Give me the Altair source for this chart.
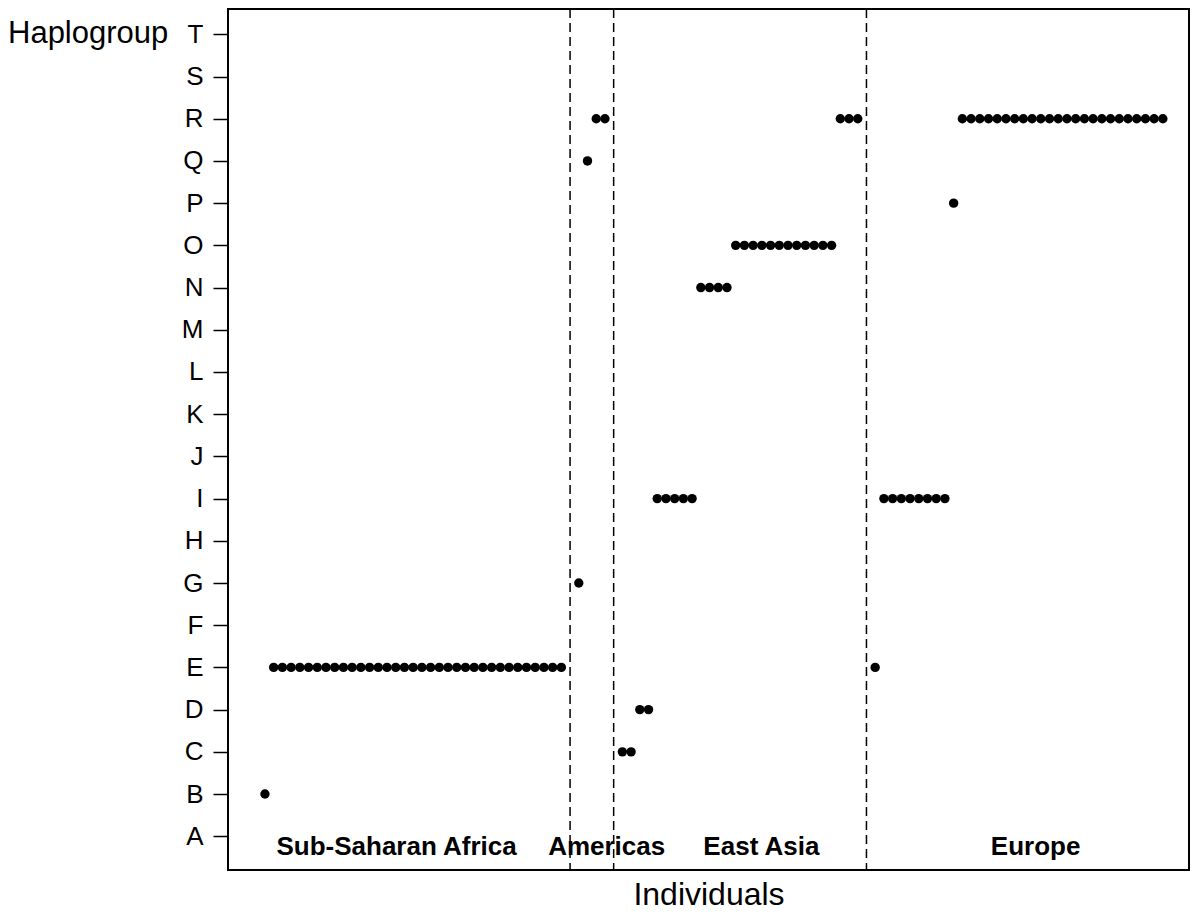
import altair as alt
import pandas as pd

# Haplogroup letters (y axis, bottom to top)
haplogroups = ["A", "B", "C", "D", "E", "F", "G", "H", "I", "J",
               "K", "L", "M", "N", "O", "P", "Q", "R", "S", "T"]

# Runs of consecutive individuals sharing the same haplogroup
run_haplogroup = ["B", "E", "G", "Q", "R", "C", "D", "I", "N", "O", "R", "E", "I", "P", "R"]
run_start = [1, 2, 37, 38, 39, 42, 44, 46, 51, 55, 67, 71, 72, 80, 81]
run_count = [1, 34, 1, 1, 2, 2, 2, 5, 4, 12, 3, 1, 8, 1, 24]

# Region dividers (individual index) and region labels
divider_positions = [36, 41, 70]
region_names = ["Sub-Saharan Africa", "Americas", "East Asia", "Europe"]
region_centers = [16.1, 40.2, 57.95, 89.4]

rows = []
for h, s, c in zip(run_haplogroup, run_start, run_count):
    for k in range(c):
        rows.append({"individual": s + k, "haplogroup": h,
                     "level": haplogroups.index(h) + 1})
points_df = pd.DataFrame(rows)
div_df = pd.DataFrame({"pos": divider_positions})
reg_df = pd.DataFrame({"region": region_names, "center": region_centers})

FONT = "Liberation Sans, Arial, Helvetica, sans-serif"
label_expr = "[" + ",".join(f"'{h}'" for h in haplogroups) + "][datum.value - 1]"

xscale = alt.Scale(domain=[-3.24, 107.0], nice=False, zero=False)
yscale = alt.Scale(domain=[0.2, 20.6], nice=False, zero=False)

xaxis = alt.Axis(labels=False, ticks=False, domain=False, grid=False,
                 title="Individuals", titleFontSize=32, titleFontWeight="normal",
                 titleFont=FONT, titleColor="black", titlePadding=9)
yaxis = alt.Axis(values=list(range(1, len(haplogroups) + 1)), labelExpr=label_expr,
                 domain=False, grid=False, ticks=True, tickSize=15, tickWidth=1.5,
                 tickColor="black", labelFontSize=26, labelFont=FONT,
                 labelColor="black", labelPadding=10, title=None)

points = alt.Chart(points_df).mark_circle(size=88, color="black", opacity=1).encode(
    x=alt.X("individual:Q", scale=xscale, axis=xaxis),
    y=alt.Y("level:Q", scale=yscale, axis=yaxis),
)

dividers = alt.Chart(div_df).mark_rule(color="black", strokeWidth=1.5,
                                        strokeDash=[9, 5]).encode(
    x=alt.X("pos:Q", scale=xscale, axis=xaxis),
)

regions = alt.Chart(reg_df).mark_text(font=FONT, fontSize=26, fontWeight="bold",
                                       color="black", align="center",
                                       baseline="middle", dy=11).encode(
    x=alt.X("center:Q", scale=xscale, axis=xaxis),
    y=alt.datum(1),
    text="region:N",
)

ytitle = alt.Chart(pd.DataFrame({"t": ["Haplogroup"]})).mark_text(
    font=FONT, fontSize=31, color="black", align="left", baseline="middle", dy=0
).encode(
    x=alt.value(-220),
    y=alt.datum(20),
    text="t:N",
)

chart = alt.layer(dividers, points, regions, ytitle).properties(
    width=961, height=861,
    padding={"left": 220, "top": 1, "right": 3, "bottom": 41},
    autosize=alt.AutoSizeParams(type="none"),
    background="white",
).configure_view(stroke="black", strokeWidth=2, strokeOpacity=1)

chart.save("out.html", embed_options={"renderer": "svg", "actions": False})
